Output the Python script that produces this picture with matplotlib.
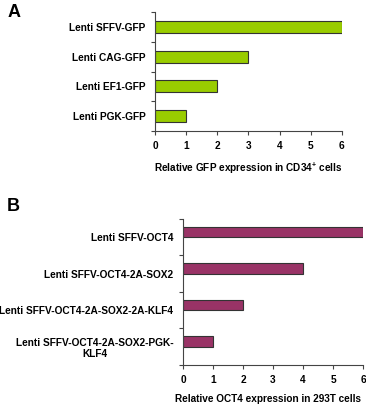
import numpy as np
import matplotlib.pyplot as plt

plt.rcParams['font.family'] = ['Liberation Sans', 'DejaVu Sans']
plt.rcParams['font.weight'] = 'bold'
plt.rcParams['mathtext.fontset'] = 'custom'
plt.rcParams['mathtext.bf'] = 'Liberation Sans:bold'
plt.rcParams['mathtext.rm'] = 'Liberation Sans:bold'

# panel A
labels_a = ['Lenti SFFV-GFP', 'Lenti CAG-GFP', 'Lenti EF1-GFP', 'Lenti PGK-GFP']
values_a = [6, 3, 2, 1]
# panel B
labels_b = ['Lenti SFFV-OCT4', 'Lenti SFFV-OCT4-2A-SOX2',
            'Lenti SFFV-OCT4-2A-SOX2-2A-KLF4', 'Lenti SFFV-OCT4-2A-SOX2-PGK-\nKLF4']
values_b = [6, 4, 2, 1]
xticks = [0, 1, 2, 3, 4, 5, 6]

fig = plt.figure(figsize=(3.66, 4.07), dpi=100)


def draw(ax, labels, values, color, height, shift, xlabel):
    n = len(labels)
    pos = np.arange(n)[::-1]
    ax.barh(pos + shift, values, height=height, color=color,
            edgecolor='#333333', linewidth=0.8)
    ax.set_ylim(-0.5, n - 0.5)
    ax.set_xlim(0, 6)
    ax.set_yticks(np.arange(n + 1) - 0.5)
    ax.set_yticklabels([])
    ax.set_yticks(pos, minor=True)
    ax.set_yticklabels(labels, minor=True, fontsize=7.3, fontweight='bold',
                       multialignment='center')
    ax.tick_params(axis='y', which='minor', length=0, pad=7)
    ax.tick_params(axis='y', which='major', length=3, width=0.8, color='#444444')
    ax.set_xticks(xticks)
    ax.tick_params(axis='x', length=3, width=0.8, color='#444444', labelsize=7.3, pad=4)
    for t in ax.get_xticklabels():
        t.set_fontweight('bold')
    ax.spines['top'].set_visible(False)
    ax.spines['right'].set_visible(False)
    ax.spines['left'].set_color('#444444')
    ax.spines['bottom'].set_color('#444444')
    ax.set_xlabel(xlabel, fontsize=7.2, fontweight='bold', labelpad=7)


ax1 = fig.add_axes([0.4235, 0.678, 0.5105, 0.2925])
draw(ax1, labels_a, values_a, '#99cc00', 0.4, 0,
     r'Relative GFP expression in CD34$^{\mathbf{+}}$ cells')

ax2 = fig.add_axes([0.5, 0.1032, 0.492, 0.3595])
draw(ax2, labels_b, values_b, '#993366', 0.29, 0.14,
     'Relative OCT4 expression in 293T cells')
ax2.xaxis.label.set_x(0.47)

fig.text(0.02, 0.97, 'A', fontsize=13, fontweight='bold', va='center')
fig.text(0.018, 0.492, 'B', fontsize=13, fontweight='bold', va='center')

fig.savefig('out.png', dpi=100)
